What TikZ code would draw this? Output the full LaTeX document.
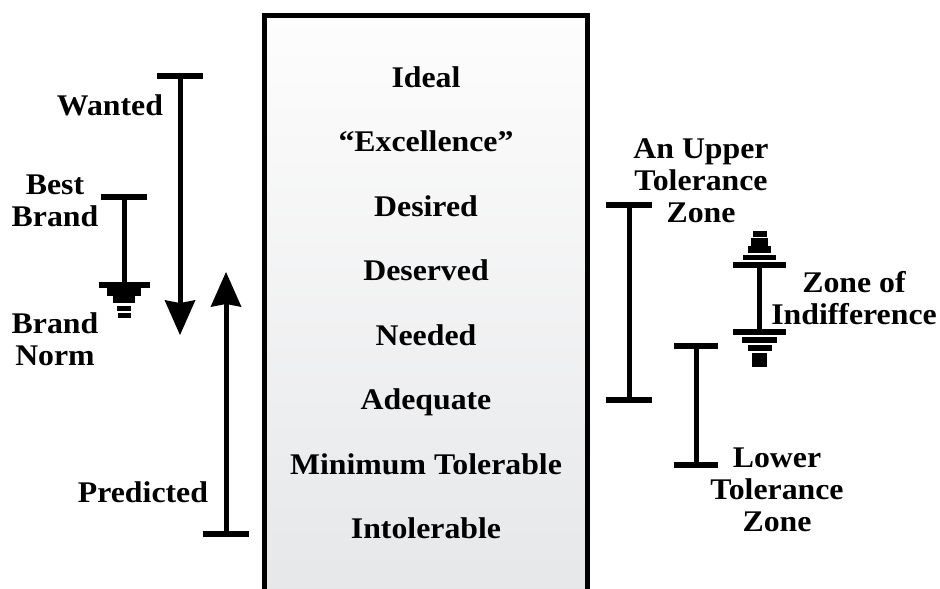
\documentclass[tikz,border=0pt]{standalone}
\usepackage{fontspec}
\setmainfont{Liberation Serif}
\newfontfamily\labelfont[FakeStretch=1.06]{Liberation Serif}
\usetikzlibrary{arrows.meta}
\definecolor{boxtop}{HTML}{FDFDFD}
\definecolor{boxbot}{HTML}{E6E7E9}
\begin{document}
\begin{tikzpicture}[x=1pt,y=-1pt,
  txt/.style={font=\labelfont\bfseries\fontsize{30}{32}\selectfont, inner sep=0pt, outer sep=0pt},
  lbl/.style={txt, align=center},
  level/.style={txt, anchor=base},
  stem/.style={line width=5pt},
  bar/.style={line width=6pt},
  tip/.style={-{Stealth[length=35pt,width=31pt,inset=3pt,line width=0pt]}},
  plate/.style={fill=black}
]
\useasboundingbox (0,0) rectangle (940,589);

% central scale
\node[draw, line width=5pt, top color=boxtop, bottom color=boxbot,
      minimum width=323pt, minimum height=585pt, inner sep=0pt, outer sep=0pt,
      anchor=north west] (scale) at (264.5,15.5) {};

\node[level] (ideal)  at (426,87)  {Ideal};
\node[level] (exc)    at (426,151) {“Excellence”};
\node[level] (des)    at (426,216) {Desired};
\node[level] (dsv)    at (426,280) {Deserved};
\node[level] (need)   at (426,345) {Needed};
\node[level] (adeq)   at (426,409) {Adequate};
\node[level] (mintol) at (426,474) {Minimum Tolerable};
\node[level] (intol)  at (426,538) {Intolerable};

% left side labels
\node[txt, anchor=base east] (wanted) at (163,115) {Wanted};
\node[lbl] (best) at (55,201) {Best\\Brand};
\node[lbl] (norm) at (55,339) {Brand\\Norm};
\node[txt, anchor=base east] (pred) at (208,502) {Predicted};

% right side labels
\node[lbl] (upper) at (701,181) {An Upper\\Tolerance\\Zone};
\node[lbl] (indiff) at (854,298) {Zone of\\Indifference};
\node[lbl] (lower) at (777,490) {Lower\\Tolerance\\Zone};

% wanted: bar with downward arrow
\coordinate (wantTop) at (180,76);
\coordinate (wantTip) at (180,335);
\draw[stem,tip] (wantTop) -- (wantTip);
\draw[bar] (wantTop) ++(-23,0) -- ++(46,0);

% predicted: bar with upward arrow
\coordinate (predBot) at (226,533.5);
\coordinate (predTip) at (226,272);
\draw[stem,tip] (predBot) -- (predTip);
\draw[bar] (predBot) ++(-23,0) -- ++(46,0);

% best brand to brand norm
\coordinate (bbTop) at (124,197);
\coordinate (bbBot) at (124,285);
\draw[stem] (bbTop) -- (bbBot);
\draw[bar] (bbTop) ++(-23,0) -- ++(46,0);
\draw[bar] (bbBot) ++(-25,0) -- ++(51,0);
\fill[plate] (107,288) rectangle (141,296);
\fill[plate] (113,296) rectangle (135,303);
\fill[plate] (117,306) rectangle (131,310.5);
\fill[plate] (117.5,313) rectangle (130.5,318);

% upper tolerance zone
\coordinate (upTop) at (629,205);
\coordinate (upBot) at (629,399.5);
\draw[stem] (upTop) -- (upBot);
\draw[bar] (upTop) ++(-23,0) -- ++(46,0);
\draw[bar] (upBot) ++(-23,0) -- ++(46,0);

% lower tolerance zone
\coordinate (loTop) at (696,346);
\coordinate (loBot) at (696,464.5);
\draw[stem] (loTop) -- (loBot);
\draw[bar] (loTop) ++(-22,0) -- ++(44,0);
\draw[bar] (loBot) ++(-22,0) -- ++(44,0);

% zone of indifference
\coordinate (ziTop) at (759.5,265);
\coordinate (ziBot) at (759.5,331.5);
\draw[stem] (ziTop) -- (ziBot);
\draw[bar] (ziTop) ++(-26.5,0) -- ++(53,0);
\draw[bar] (ziBot) ++(-26.5,0) -- ++(53,0);
\fill[plate] (753,231) rectangle (767,237);
\fill[plate] (751,238) rectangle (768,246);
\fill[plate] (748,246) rectangle (771,253);
\fill[plate] (743,255) rectangle (776,260);
\fill[plate] (742,337) rectangle (777,343);
\fill[plate] (748,344.5) rectangle (772,351);
\fill[plate] (752,352.5) rectangle (767,367);
\end{tikzpicture}
\end{document}
